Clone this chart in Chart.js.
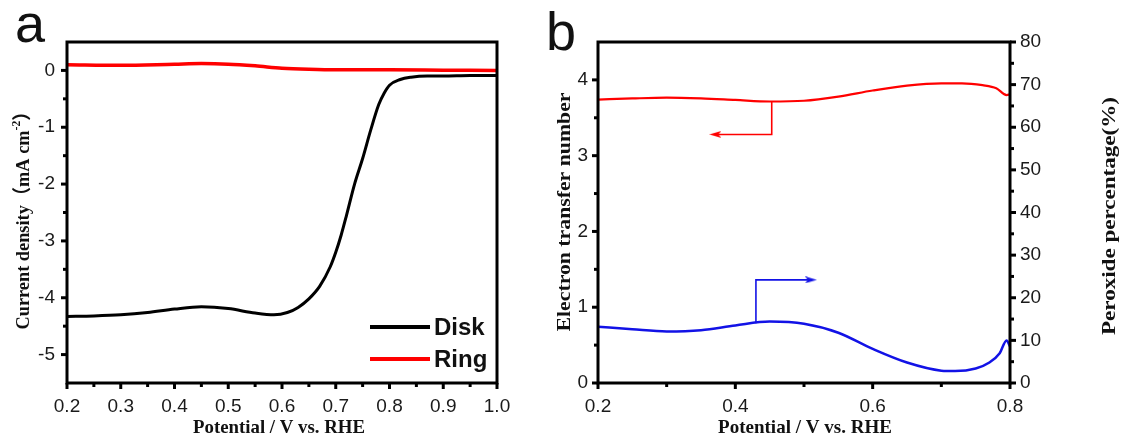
<!DOCTYPE html>
<html>
<head>
<meta charset="utf-8">
<script src="https://cdn.jsdelivr.net/npm/chart.js@4.4.1/dist/chart.umd.min.js"></script>
<style>
  html, body { margin: 0; padding: 0; background: #fff; }
  body { width: 1122px; height: 436px; position: relative; overflow: hidden; }
  canvas { position: absolute; top: 0; }
  #ca { left: 0; }
  #cb { left: 540px; }
</style>
</head>
<body>
<canvas id="ca" width="540" height="436"></canvas>
<canvas id="cb" width="582" height="436"></canvas>
<script>
// ---------- Panel a data ----------
const diskV = [0.20,0.25,0.30,0.35,0.40,0.45,0.50,0.55,0.585,0.61,0.63,0.65,0.67,0.69,0.70,0.71,0.72,0.735,0.75,0.765,0.78,0.79,0.80,0.82,0.84,0.87,0.90,0.95,1.00];
const diskJ = [-4.33,-4.32,-4.30,-4.26,-4.20,-4.16,-4.19,-4.27,-4.30,-4.26,-4.17,-4.02,-3.80,-3.45,-3.20,-2.90,-2.55,-2.00,-1.55,-1.05,-0.60,-0.40,-0.26,-0.16,-0.12,-0.10,-0.10,-0.09,-0.09];
const ringV = [0.20,0.30,0.40,0.45,0.50,0.55,0.60,0.65,0.70,0.80,0.90,1.00];
const ringJ = [0.10,0.09,0.11,0.12,0.11,0.08,0.04,0.02,0.01,0.01,0.005,0.00];
const xTicksA = [0.2,0.3,0.4,0.5,0.6,0.7,0.8,0.9,1.0];
const xMinorA = [0.25,0.35,0.45,0.55,0.65,0.75,0.85,0.95];
const yTicksA = [-5,-4,-3,-2,-1,0];
const yMinorA = [-4.5,-3.5,-2.5,-1.5,-0.5];
const seriesA = ["Disk","Ring"];

// ---------- Panel b data ----------
const nV   = [0.20,0.25,0.30,0.35,0.40,0.45,0.50,0.55,0.60,0.65,0.70,0.73,0.76,0.78,0.795,0.80];
const nVal = [3.74,3.755,3.765,3.755,3.735,3.715,3.725,3.78,3.86,3.925,3.955,3.955,3.93,3.89,3.80,3.81];
const pV   = [0.20,0.25,0.30,0.35,0.40,0.45,0.50,0.55,0.60,0.65,0.70,0.72,0.75,0.77,0.785,0.795,0.80];
const pVal = [13.2,12.6,12.1,12.4,13.5,14.4,13.9,11.8,8.0,4.8,2.9,2.8,3.4,4.8,7.0,10.0,8.6];
const redArrowV  = [0.453,0.453,0.371];
const redArrowN  = [3.715,3.28,3.28];
const blueArrowV = [0.430,0.430,0.510];
const blueArrowP = [14.0,24.2,24.2];
const xTicksB = [0.2,0.4,0.6,0.8];
const xMinorB = [0.3,0.5,0.7];
const yTicksB = [0,1,2,3,4];
const yMinorB = [0.5,1.5,2.5,3.5];
const y2TicksB = [0,10,20,30,40,50,60,70,80];
const y2MinorB = [5,15,25,35,45,55,65,75];

const pts = (xs, ys) => xs.map((x, i) => ({x: x, y: ys[i]}));

const SANS = "'Liberation Sans', Arial, sans-serif";
const SERIF = "'Liberation Serif', 'Times New Roman', 'Noto Sans CJK SC', serif";
const tickFont = {family: SANS, size: 19};
const tickColor = '#1a1a1a';

// arrowhead image (points right)
function arrowImg(color) {
  const c = document.createElement('canvas');
  c.width = 12; c.height = 7;
  const g = c.getContext('2d');
  g.fillStyle = color;
  g.beginPath(); g.moveTo(0, 0); g.lineTo(12, 3.5); g.lineTo(0, 7); g.lineTo(3, 3.5); g.closePath(); g.fill();
  return c;
}

function drawRich(ctx, segs, cx, cy, rot, len) {
  ctx.save();
  ctx.translate(cx, cy);
  ctx.rotate(rot);
  let total = 0;
  segs.forEach(s => { ctx.font = s.font; s.w = ctx.measureText(s.t).width; total += s.w; });
  if (len) ctx.scale(len / total, 1);
  ctx.textBaseline = 'middle';
  ctx.textAlign = 'left';
  ctx.fillStyle = '#111';
  let x = -total / 2;
  segs.forEach(s => { ctx.font = s.font; ctx.fillText(s.t, x, s.dy || 0); x += s.w; });
  ctx.restore();
}

const decoPlugin = {
  id: 'deco',
  afterDatasetsDraw(chart, args, opts) {
    const ctx = chart.ctx;
    const a = chart.chartArea;
    ctx.save();
    ctx.strokeStyle = '#000';
    ctx.lineWidth = 3;
    ctx.strokeRect(a.left, a.top, a.right - a.left, a.bottom - a.top);
    ctx.lineCap = 'butt';
    (opts.ticks || []).forEach(t => {
      const sc = chart.scales[t.id];
      const draw = (vals, len) => vals.forEach(v => {
        const p = sc.getPixelForValue(v);
        ctx.beginPath();
        if (t.side === 'bottom') { ctx.moveTo(p, a.bottom); ctx.lineTo(p, a.bottom + len); }
        else if (t.side === 'left') { ctx.moveTo(a.left, p); ctx.lineTo(a.left - len, p); }
        else { ctx.moveTo(a.right, p); ctx.lineTo(a.right + len, p); }
        ctx.stroke();
      });
      ctx.lineWidth = 3;
      draw(t.major, 6);
      draw(t.minor, 4);
    });
    ctx.restore();
  },
  afterDraw(chart, args, opts) {
    if (opts.after) opts.after(chart);
  }
};

function fixedScale(prop, size) {
  return function (scale) { scale[prop] = size; };
}
function setTicks(vals) {
  return function (scale) { scale.ticks = vals.map(v => ({value: v})); };
}

// ---------- Chart a ----------
new Chart(document.getElementById('ca'), {
  type: 'line',
  data: {
    datasets: [
      {label: seriesA[0], data: pts(diskV, diskJ), borderColor: '#000', borderWidth: 3, pointRadius: 0, cubicInterpolationMode: 'monotone'},
      {label: seriesA[1], data: pts(ringV, ringJ), borderColor: '#f00', borderWidth: 3.5, pointRadius: 0, cubicInterpolationMode: 'monotone'}
    ]
  },
  options: {
    responsive: false, animation: false, devicePixelRatio: 1,
    layout: {padding: {top: 42, right: 43, left: 0, bottom: 0}},
    plugins: {
      legend: {display: false}, tooltip: {enabled: false},
      deco: {
        ticks: [
          {id: 'x', side: 'bottom', major: xTicksA, minor: xMinorA},
          {id: 'y', side: 'left', major: yTicksA, minor: yMinorA}
        ],
        after(chart) {
          const ctx = chart.ctx, a = chart.chartArea;
          ctx.save();
          ctx.fillStyle = '#111';
          ctx.font = '54px ' + SANS;
          ctx.textBaseline = 'alphabetic';
          ctx.fillText('a', 15, 42);
          const ds = chart.data.datasets;
          const rows = [a.bottom - 56, a.bottom - 24];
          ds.forEach((d, i) => {
            ctx.strokeStyle = d.borderColor;
            ctx.lineWidth = 4;
            ctx.beginPath(); ctx.moveTo(a.right - 127, rows[i]); ctx.lineTo(a.right - 67, rows[i]); ctx.stroke();
            ctx.fillStyle = '#111';
            ctx.font = 'bold 24px ' + SANS;
            ctx.textBaseline = 'middle';
            ctx.fillText(d.label, a.right - 63, rows[i] + 1);
          });
          ctx.restore();
          drawRich(ctx, [{t: 'Potential / V vs. RHE', font: 'bold 19px ' + SERIF}], 279, 428, 0, 172);
          drawRich(ctx, [
            {t: 'Current density（mA cm', font: 'bold 19px ' + SERIF},
            {t: '-2', font: 'bold 12px ' + SERIF, dy: -7},
            {t: '）', font: 'bold 19px ' + SERIF}
          ], 24, 216, -Math.PI / 2, 227);
        }
      }
    },
    scales: {
      x: {
        type: 'linear', min: 0.2, max: 1.0,
        grid: {display: false, drawTicks: false}, border: {display: false},
        afterBuildTicks: setTicks(xTicksA), afterFit: fixedScale('height', 53),
        ticks: {font: tickFont, color: tickColor, padding: 12, maxRotation: 0, autoSkip: false, callback: v => v.toFixed(1)}
      },
      y: {
        type: 'linear', min: -5.5, max: 0.5,
        grid: {display: false, drawTicks: false}, border: {display: false},
        afterBuildTicks: setTicks(yTicksA), afterFit: fixedScale('width', 67),
        ticks: {font: tickFont, color: tickColor, padding: 12, autoSkip: false, callback: v => String(v)}
      }
    }
  },
  plugins: [decoPlugin]
});

// ---------- Chart b ----------
new Chart(document.getElementById('cb'), {
  type: 'line',
  data: {
    datasets: [
      {label: 'Electron transfer number', data: pts(nV, nVal), yAxisID: 'y', borderColor: '#f00', borderWidth: 2.2, pointRadius: 0, cubicInterpolationMode: 'monotone'},
      {label: 'Peroxide percentage', data: pts(pV, pVal), yAxisID: 'y2', borderColor: '#1212e6', borderWidth: 2.5, pointRadius: 0, cubicInterpolationMode: 'monotone'},
      {label: 'arrow n', data: pts(redArrowV, redArrowN), yAxisID: 'y', borderColor: '#f00', borderWidth: 1.6, tension: 0,
       pointRadius: [0,0,6], pointStyle: arrowImg('#f00'), pointRotation: [0,0,180]},
      {label: 'arrow p', data: pts(blueArrowV, blueArrowP), yAxisID: 'y2', borderColor: '#1212e6', borderWidth: 1.6, tension: 0,
       pointRadius: [0,0,6], pointStyle: arrowImg('#1212e6'), pointRotation: [0,0,0]}
    ]
  },
  options: {
    responsive: false, animation: false, devicePixelRatio: 1,
    layout: {padding: {top: 42, right: 0, left: 0, bottom: 0}},
    plugins: {
      legend: {display: false}, tooltip: {enabled: false},
      deco: {
        ticks: [
          {id: 'x', side: 'bottom', major: xTicksB, minor: xMinorB},
          {id: 'y', side: 'left', major: yTicksB, minor: yMinorB},
          {id: 'y2', side: 'right', major: y2TicksB, minor: y2MinorB}
        ],
        after(chart) {
          const ctx = chart.ctx;
          ctx.save();
          ctx.fillStyle = '#111';
          ctx.font = '54px ' + SANS;
          ctx.textBaseline = 'alphabetic';
          ctx.fillText('b', 6, 50);
          ctx.restore();
          drawRich(ctx, [{t: 'Potential / V vs. RHE', font: 'bold 19px ' + SERIF}], 265, 428, 0, 174);
          drawRich(ctx, [{t: 'Electron transfer number', font: 'bold 19px ' + SERIF}], 25, 212, -Math.PI / 2, 239);
          drawRich(ctx, [{t: 'Peroxide percentage(%)', font: 'bold 19px ' + SERIF}], 570, 216, -Math.PI / 2, 238);
        }
      }
    },
    scales: {
      x: {
        type: 'linear', min: 0.2, max: 0.8,
        grid: {display: false, drawTicks: false}, border: {display: false},
        afterBuildTicks: setTicks(xTicksB), afterFit: fixedScale('height', 53),
        ticks: {font: tickFont, color: tickColor, padding: 12, maxRotation: 0, autoSkip: false, callback: v => v.toFixed(1)}
      },
      y: {
        type: 'linear', position: 'left', min: 0, max: 4.5,
        grid: {display: false, drawTicks: false}, border: {display: false},
        afterBuildTicks: setTicks(yTicksB), afterFit: fixedScale('width', 58),
        ticks: {font: tickFont, color: tickColor, padding: 10, autoSkip: false, callback: v => String(v)}
      },
      y2: {
        type: 'linear', position: 'right', min: 0, max: 80,
        grid: {display: false, drawTicks: false}, border: {display: false},
        afterBuildTicks: setTicks(y2TicksB), afterFit: fixedScale('width', 112),
        ticks: {font: tickFont, color: tickColor, padding: 10, autoSkip: false, callback: v => String(v)}
      }
    }
  },
  plugins: [decoPlugin]
});
</script>
</body>
</html>
